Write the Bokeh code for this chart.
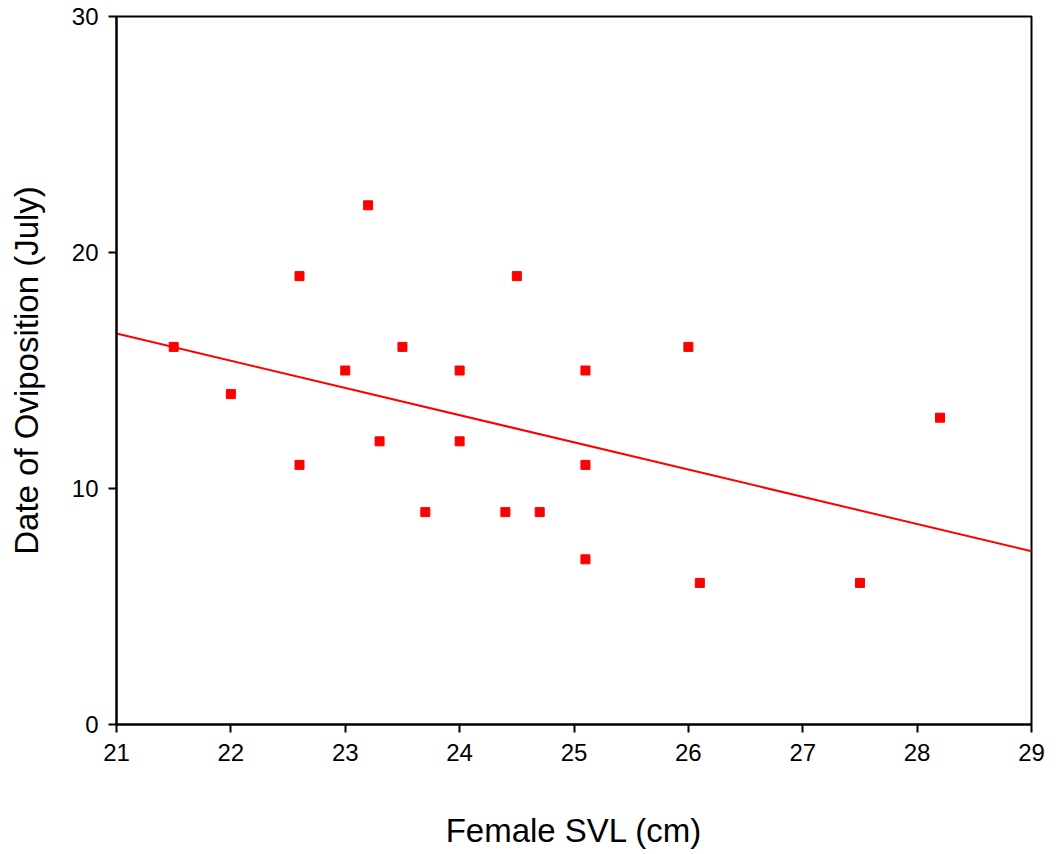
from bokeh.plotting import figure
from bokeh.models import Range1d, FixedTicker
from bokeh.embed import file_html
from bokeh.resources import INLINE

# Data
svl = [21.5, 22.0, 22.6, 22.6, 23.0, 23.2, 23.3, 23.5, 23.7, 24.0, 24.0,
       24.4, 24.5, 24.7, 25.1, 25.1, 25.1, 26.0, 26.1, 27.5, 28.2]
oviposition_day = [16, 14, 19, 11, 15, 22, 12, 16, 9, 15, 12,
                   9, 19, 9, 15, 11, 7, 16, 6, 6, 13]

# Fitted regression line (end points)
fit_x = [21.0, 29.0]
fit_y = [16.57, 7.34]

x_ticks = [21, 22, 23, 24, 25, 26, 27, 28, 29]
y_ticks = [0, 10, 20, 30]

FONT = "Liberation Sans"

p = figure(width=1045, height=852, output_backend="svg", toolbar_location=None,
           x_range=Range1d(21, 29), y_range=Range1d(0, 30),
           min_border_left=116, min_border_right=14, min_border_top=16,
           min_border_bottom=128)

p.line(fit_x, fit_y, line_color="#ff0000", line_width=2)
p.scatter(svl, oviposition_day, marker="square", size=9,
          fill_color="#ff0000", line_color="#ff0000")

p.xgrid.visible = False
p.ygrid.visible = False
p.outline_line_color = "black"
p.outline_line_width = 2
p.outline_line_alpha = 1

for ax in (p.xaxis[0], p.yaxis[0]):
    ax.axis_line_width = 2
    ax.axis_line_color = "black"
    ax.major_tick_line_width = 2
    ax.major_tick_line_color = "black"
    ax.major_tick_out = 8
    ax.major_tick_in = 0
    ax.minor_tick_line_color = None
    ax.major_label_text_font = FONT
    ax.major_label_text_font_size = "24px"
    ax.major_label_text_color = "black"
    ax.axis_label_text_font = FONT
    ax.axis_label_text_font_size = "33px"
    ax.axis_label_text_font_style = "normal"
    ax.axis_label_text_color = "black"

p.xaxis[0].ticker = FixedTicker(ticks=x_ticks)
p.yaxis[0].ticker = FixedTicker(ticks=y_ticks)
p.xaxis[0].axis_label = "Female SVL (cm)"
p.yaxis[0].axis_label = "Date of Oviposition (July)"
p.xaxis[0].major_label_standoff = 11
p.xaxis[0].axis_label_standoff = 48
p.yaxis[0].major_label_standoff = 10
p.yaxis[0].axis_label_standoff = 24

open("out.html", "w").write(file_html(p, INLINE))
